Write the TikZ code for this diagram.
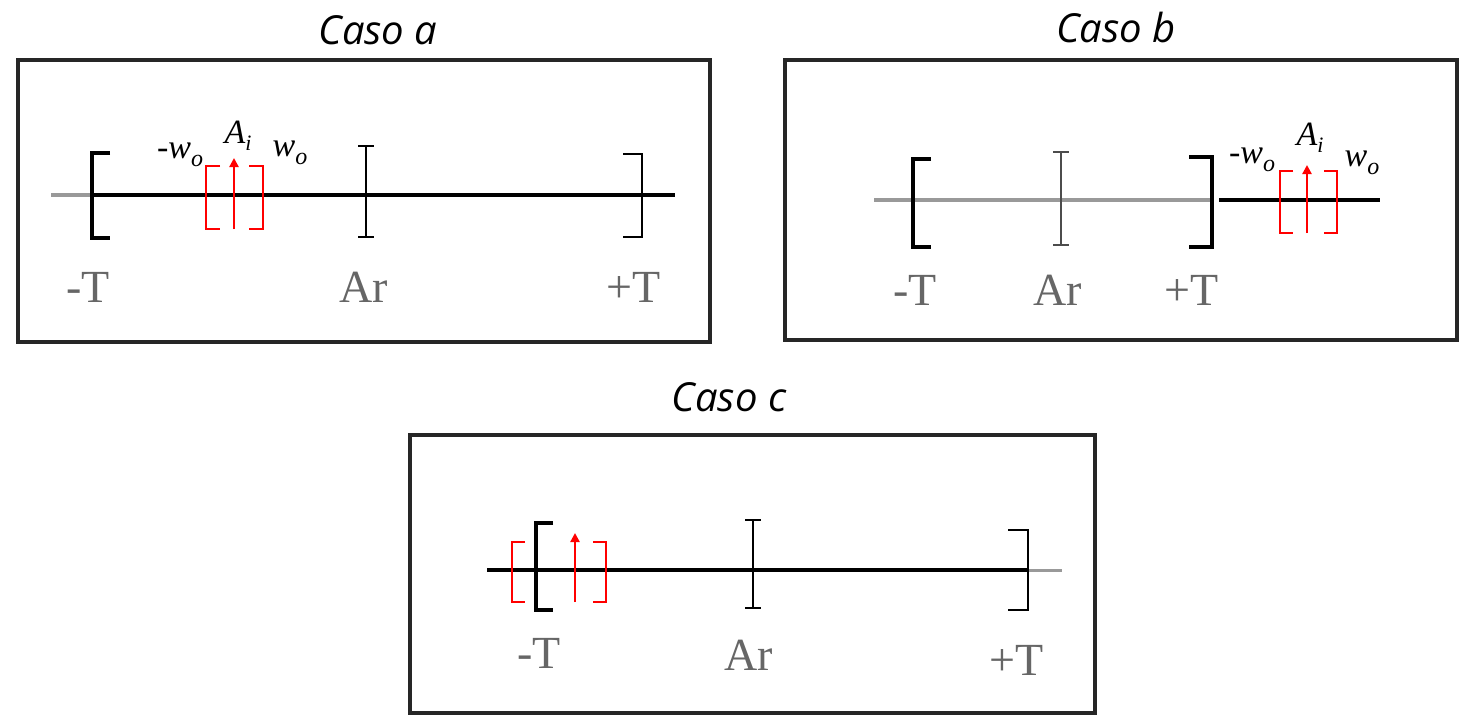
\documentclass[tikz,border=0pt]{standalone}
\usepackage{fontspec}
\setmainfont{Liberation Serif}
\newfontfamily\titlefont{Open Sans}
\usetikzlibrary{arrows.meta}
\newcommand{\wsub}{\textit{w}\raisebox{-0.22em}{\fontsize{24}{26}\selectfont\textit{o}}}
\newcommand{\asub}{\textit{A}\raisebox{-0.22em}{\fontsize{22}{24}\selectfont\textit{i}}}
\begin{document}
\begin{tikzpicture}[x=1pt,y=-1pt,
  frame/.style={line width=3.5pt, draw=black!85},
  axisline/.style={line width=3.5pt, draw=black},
  faintaxis/.style={line width=4pt, draw=black!40},
  thickbr/.style={line width=4pt, draw=black},
  thinbr/.style={line width=2.8pt, draw=black},
  ticks/.style={line width=2.6pt, draw=black},
  serif/.style={line width=1.8pt, draw=black},
  redbr/.style={line width=2.6pt, draw=red},
  redarrow/.style={line width=2.6pt, draw=red, -{Triangle[length=9pt,width=9pt,fill=red]}},
  titletext/.style={font=\titlefont\itshape\fontsize{40}{44}\selectfont, inner sep=0pt},
  axlab/.style={text=black!60, font=\fontsize{46}{50}\selectfont, inner sep=0pt},
  mlab/.style={font=\fontsize{34}{38}\selectfont, inner sep=0pt}
]
\useasboundingbox (0,0) rectangle (1461,715);

% ---------------- Caso a ----------------
\node[titletext] (ta) at (378,30) {Caso a};
\draw[frame] (18,60) rectangle (710,342);
\draw[faintaxis] (51,195) -- (92,195);
\draw[axisline] (92,195) -- (675,195);
\draw[thickbr] (110,153) -| (92,238) -- (110,238);
\draw[ticks] (366,146) -- (366,237);
\draw[serif] (358,146) -- (374,146) (358,237) -- (374,237);
\draw[thinbr] (623,154) -| (642,237) -- (623,237);
\draw[redbr] (220,166) -| (206,229) -- (220,229);
\draw[redbr] (249,166) -| (263,229) -- (249,229);
\coordinate (a0) at (234,229);
\coordinate (a1) at (234,158);
\draw[redarrow] (a0) -- (a1);
\node[mlab] (amw) at (180,155) {-\wsub};
\node[mlab] (aai) at (238,136) {\asub};
\node[mlab] (apw) at (290,153) {\wsub};
\node[axlab] (amt) at (88,287) {-T};
\node[axlab] (aar) at (364,287) {Ar};
\node[axlab] (apt) at (634,287) {+T};

% ---------------- Caso b ----------------
\node[titletext] (tb) at (1116,27) {Caso b};
\draw[frame] (785,60) rectangle (1457,340);
\draw[faintaxis] (874,200) -- (1212,200);
\draw[axisline] (1219,200) -- (1380,200);
\draw[thickbr] (931,159) -| (913,247) -- (931,247);
\draw[ticks, draw=black!70] (1061,152) -- (1061,245);
\draw[serif, draw=black!70] (1053,152) -- (1069,152) (1053,245) -- (1069,245);
\draw[thickbr] (1189,157) -| (1212,247) -- (1189,247);
\draw[redbr] (1293,171) -| (1280,233) -- (1293,233);
\draw[redbr] (1324,171) -| (1337,233) -- (1324,233);
\coordinate (b0) at (1307,233);
\coordinate (b1) at (1307,165);
\draw[redarrow] (b0) -- (b1);
\node[mlab] (bmw) at (1252,160) {-\wsub};
\node[mlab] (bai) at (1310,138) {\asub};
\node[mlab] (bpw) at (1362,163) {\wsub};
\node[axlab] (bmt) at (915,290) {-T};
\node[axlab] (bar) at (1058,290) {Ar};
\node[axlab] (bpt) at (1192,290) {+T};

% ---------------- Caso c ----------------
\node[titletext] (tc) at (729,397) {Caso c};
\draw[frame] (410,435) rectangle (1095,713);
\draw[axisline] (487,570) -- (1028,570);
\draw[faintaxis, line width=3pt] (1028,570) -- (1062,570);
\draw[thickbr] (553,523) -| (536,610) -- (553,610);
\draw[ticks] (753,520) -- (753,608);
\draw[serif] (745,520) -- (761,520) (745,608) -- (761,608);
\draw[thinbr] (1008,530) -| (1028,610) -- (1008,610);
\draw[redbr] (525,542) -| (512,602) -- (525,602);
\draw[redbr] (593,542) -| (606,602) -- (593,602);
\coordinate (c0) at (575,602);
\coordinate (c1) at (575,533);
\draw[redarrow] (c0) -- (c1);
\node[axlab] (cmt) at (539,653) {-T};
\node[axlab] (car) at (749,655) {Ar};
\node[axlab] (cpt) at (1017,660) {+T};
\end{tikzpicture}
\end{document}
